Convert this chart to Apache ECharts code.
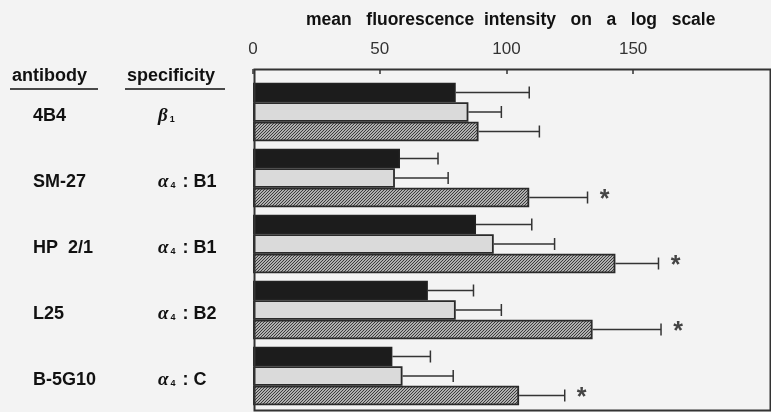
<!DOCTYPE html>
<html>
<head>
<meta charset="utf-8">
<script src="https://cdn.jsdelivr.net/npm/echarts@6/dist/echarts.min.js"></script>
<style>
html, body { margin: 0; padding: 0; background: #f3f3f3; }
#box { width: 771px; height: 412px; }
</style>
</head>
<body>
<div id="box"></div>
<script>
// antibodies and their specificity (rows, top to bottom)
const antibodies = ["4B4", "SM-27", "HP  2/1", "L25", "B-5G10"]
const greek = ["β", "α", "α", "α", "α"]
const greekSub = ["1", "4", "4", "4", "4"]
const specTail = ["", " : B1", " : B1", " : B2", " : C"]

// mean fluorescence intensity, three bars per antibody
const blackVals = [80, 58, 88, 69, 55]
const blackErr = [29, 15, 22, 18, 15]
const lightVals = [85, 56, 95, 80, 59]
const lightErr = [13, 21, 24, 18, 20]
const hatchVals = [89, 109, 143, 134, 105]
const hatchErr = [24, 23, 17, 27, 18]
const significant = [false, true, true, true, true]

const xTicks = [0, 50, 100, 150]

// hatch pattern for the third bar
function hatchCanvas() {
	const c = document.createElement("canvas")
	c.width = 6
	c.height = 6
	const ctx = c.getContext("2d")
	for (let i = 0; i < 6; i++) {
		for (let j = 0; j < 6; j++) {
			ctx.fillStyle = (i + j) % 3 === 0 ? "#3c3c3c" : "#b0b0b0"
			ctx.fillRect(i, j, 1, 1)
		}
	}
	return c
}

const BAR_W = 19.5
const allVals = [blackVals, lightVals, hatchVals]
const allErr = [blackErr, lightErr, hatchErr]

let errData = []
allVals.forEach((vals, s) => {
	vals.forEach((v, i) => {
		errData.push([i, v, allErr[s][i], s, s === 2 && significant[i] ? 1 : 0])
	})
})

function renderErr(params, api) {
	const idx = api.value(0)
	const v = api.value(1)
	const e = api.value(2)
	const s = api.value(3)
	const p0 = api.coord([v, idx])
	const p1 = api.coord([v + e, idx])
	const y = p0[1] + (s - 1) * BAR_W
	const children = [
		{ type: "line", shape: { x1: p0[0], y1: y, x2: p1[0], y2: y }, style: { stroke: "#333", lineWidth: 1.5 } },
		{ type: "line", shape: { x1: p1[0], y1: y - 6, x2: p1[0], y2: y + 6 }, style: { stroke: "#333", lineWidth: 1.5 } },
	]
	if (api.value(4)) {
		children.push({
			type: "text",
			style: {
				x: p1[0] + 17, y: y + 3, text: "*",
				font: "bold 25px 'Liberation Sans'", fill: "#444",
				textAlign: "center", textVerticalAlign: "middle",
			},
		})
	}
	return { type: "group", children: children }
}

const richLabel = {
	a: { width: 125, fontSize: 18, fontWeight: "bold", color: "#111", fontFamily: "Liberation Sans" },
	g: { fontSize: 19, fontWeight: "bold", fontStyle: "italic", color: "#111", fontFamily: "Liberation Serif" },
	sub: { fontSize: 9, fontWeight: "bold", color: "#111", fontFamily: "Liberation Sans", padding: [8, 2, 0, 2] },
	s: { fontSize: 18, fontWeight: "bold", color: "#111", fontFamily: "Liberation Sans" },
}

let myCharts = echarts.init(document.getElementById("box"))
let option = {
	backgroundColor: "#f3f3f3",
	animation: false,
	grid: { left: 253, right: 1, top: 79, height: 330 },
	xAxis: {
		type: "value",
		position: "top",
		offset: 10,
		min: 0,
		max: 204,
		interval: 50,
		axisLine: { show: false },
		axisTick: {
			show: true, inside: true, length: 5, customValues: xTicks,
			lineStyle: { color: "#333", width: 1.5 },
		},
		splitLine: { show: false },
		axisLabel: {
			margin: 11,
			fontSize: 17,
			color: "#333",
			fontFamily: "Liberation Sans",
			customValues: xTicks,
		},
	},
	yAxis: {
		type: "category",
		inverse: true,
		data: antibodies,
		axisLine: { show: false },
		axisTick: { show: false },
		axisLabel: {
			align: "left",
			margin: 220,
			padding: [8, 0, 0, 0],
			formatter: (val, i) =>
				"{a|" + val + "}{g|" + greek[i] + "}{sub|" + greekSub[i] + "}{s|" + specTail[i] + "}",
			rich: richLabel,
		},
	},
	series: [
		{
			type: "bar", data: blackVals, barWidth: BAR_W, barGap: "0%",
			itemStyle: { color: "#1c1c1c", borderColor: "#222", borderWidth: 1.5 },
		},
		{
			type: "bar", data: lightVals, barWidth: BAR_W, barGap: "0%",
			itemStyle: { color: "#dadada", borderColor: "#2a2a2a", borderWidth: 1.8 },
		},
		{
			type: "bar", data: hatchVals, barWidth: BAR_W, barGap: "0%",
			itemStyle: { color: { image: hatchCanvas(), repeat: "repeat" }, borderColor: "#2a2a2a", borderWidth: 1.8 },
		},
		{
			type: "custom", data: errData, renderItem: renderErr,
			encode: { x: 1, y: 0 }, z: 5, clip: false,
		},
	],
	graphic: [
		{
			type: "rect", z: 10, silent: true,
			shape: { x: 254.5, y: 69.5, width: 516, height: 341 },
			style: { fill: null, stroke: "#333", lineWidth: 2 },
		},
		{
			type: "text", left: 306, top: 11,
			style: {
				text: "mean   fluorescence  intensity   on   a   log   scale",
				font: "bold 17.5px 'Liberation Sans'", fill: "#111",
			},
		},
		{
			type: "text", left: 12, top: 67,
			style: { text: "antibody", font: "bold 18px 'Liberation Sans'", fill: "#111" },
		},
		{
			type: "text", left: 127, top: 67,
			style: { text: "specificity", font: "bold 18px 'Liberation Sans'", fill: "#111" },
		},
		{ type: "line", shape: { x1: 10, y1: 89, x2: 98, y2: 89 }, style: { stroke: "#111", lineWidth: 1.5 } },
		{ type: "line", shape: { x1: 125, y1: 89, x2: 225, y2: 89 }, style: { stroke: "#111", lineWidth: 1.5 } },
	],
}
myCharts.setOption(option)
</script>
</body>
</html>
